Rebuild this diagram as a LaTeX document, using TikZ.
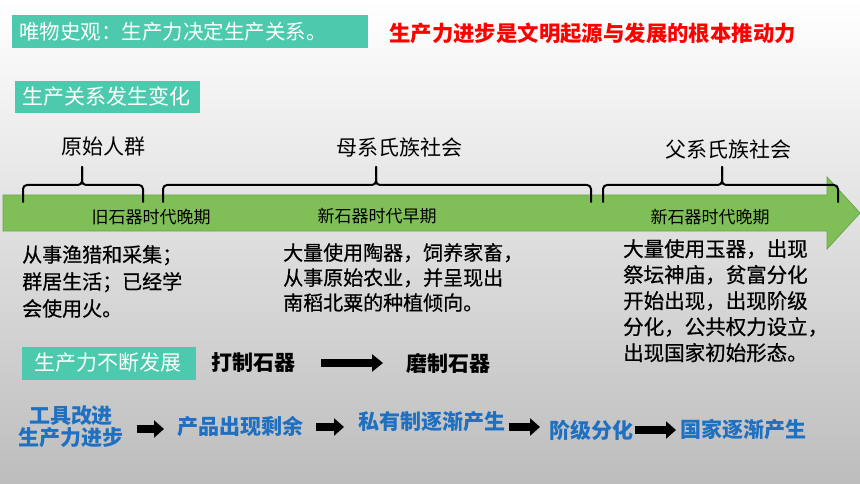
\documentclass[tikz,border=0pt]{standalone}
\usepackage{fontspec}
\setmainfont{Noto Sans CJK SC}
\newfontfamily\blkfont{Noto Sans CJK SC}[FakeBold=0.6]
\usetikzlibrary{arrows.meta}
\definecolor{teal1}{HTML}{4DC9AD}
\definecolor{barg}{HTML}{80BF57}
\definecolor{barline}{HTML}{6CA64A}
\definecolor{blue1}{HTML}{1F70C1}
\definecolor{red1}{HTML}{FF0000}
\definecolor{bgbot}{HTML}{BDBDBD}
\newcommand\fsz[2]{\fontsize{#1}{#2}\selectfont}
\begin{document}
\begin{tikzpicture}[x=1pt,y=-1pt,
  tealbox/.style={fill=teal1,draw=none},
  boxtext/.style={text=white,anchor=west,inner sep=0pt},
  bracepath/.style={line width=2pt, rounded corners=4pt, line cap=round},
  lbl/.style={font=\fsz{21}{21}, inner sep=0pt},
  bartext/.style={font=\fsz{17}{17}, inner sep=0pt},
  block/.style={anchor=north west, align=left, inner sep=0pt},
  btext/.style={text=blue1, font=\bfseries\fsz{21}{22}, inner sep=0pt, align=center},
  barrow/.style={line width=8pt, -{Triangle[length=10pt,width=17pt]}},
]
\useasboundingbox (0,0) rectangle (860,484);
\shade[top color=white, bottom color=bgbot] (0,0) rectangle (860,484);

% header boxes
\fill[tealbox] (12,15) rectangle (368,48);
\node[boxtext, font=\fsz{20.5}{20.5}] (t1) at (19,32) {唯物史观：生产力决定生产关系。};
\node[anchor=west, inner sep=0pt, text=red1, font=\bfseries\fsz{21.4}{21.4}] (t2) at (389,33) {生产力进步是文明起源与发展的根本推动力};
\fill[tealbox] (15,81) rectangle (200,113);
\node[boxtext, font=\fsz{21}{21}] (t3) at (22,97) {生产关系发生变化};

% timeline bar
\filldraw[fill=barg, draw=barline, line width=0.8pt] (3,195) -- (827,195) -- (827,177) -- (860,213) -- (827,249) -- (827,231) -- (3,231) -- cycle;
\node[bartext] (p1) at (151,217) {旧石器时代晚期};
\node[bartext] (p2) at (377,216) {新石器时代早期};
\node[bartext] (p3) at (710,217) {新石器时代晚期};

% braces
\draw[bracepath] (23,202) -- (23,185) -- (82,185) -- (82,167);
\draw[bracepath] (143,202) -- (143,185) -- (82,185) -- (82,167);
\draw[bracepath] (163,202) -- (163,185) -- (376,185) -- (376,167);
\draw[bracepath] (591,202) -- (591,185) -- (376,185) -- (376,167);
\draw[bracepath] (603,202) -- (603,185) -- (722,185) -- (722,167);
\draw[bracepath] (838,202) -- (838,185) -- (722,185) -- (722,167);

\node[lbl] (s1) at (103,147) {原始人群};
\node[lbl] (s2) at (399,147) {母系氏族社会};
\node[lbl] (s3) at (728,150) {父系氏族社会};

% descriptions
\node[block, font=\blkfont\fsz{20}{27}] (d1) at (22,245) {从事渔猎和采集；\\群居生活；已经学\\会使用火。};
\node[block, font=\blkfont\fsz{20}{25}] (d2) at (283,243) {大量使用陶器，饲养家畜，\\从事原始农业，并呈现出\\南稻北粟的种植倾向。};
\node[block, font=\blkfont\fsz{20.5}{26}] (d3) at (623,239) {大量使用玉器，出现\\祭坛神庙，贫富分化\\开始出现，出现阶级\\分化，公共权力设立，\\出现国家初始形态。};

% productivity row
\fill[tealbox] (22,347) rectangle (196,380);
\node[boxtext, font=\fsz{21}{21}] (t4) at (34,363) {生产力不断发展};
\node[anchor=west, inner sep=0pt, font=\bfseries\fsz{21}{21}] (k1) at (211,363) {打制石器};
\node[anchor=west, inner sep=0pt, font=\bfseries\fsz{21}{21}] (k2) at (406,363) {磨制石器};
\draw[barrow, line width=8pt, -{Triangle[length=11pt,width=17pt]}, shorten <=26pt, shorten >=23pt] (k1.east) -- (k2.west);

% bottom chain
\node[btext] (n1) at (71,427) {工具改进\\生产力进步};
\node[btext] (n2) at (240,427) {产品出现剩余};
\node[btext] (n3) at (432,422) {私有制逐渐产生};
\node[btext] (n4) at (591,430) {阶级分化};
\node[btext] (n5) at (743,430) {国家逐渐产生};
\draw[barrow, shorten <=13pt] ([yshift=-2pt]n1.east) -- ([yshift=-2pt]n1.east -| 164,0);
\draw[barrow] ([yshift=0pt]n2.east) ++(13,0) coordinate (a2s) -- (a2s -| 344,0);
\draw[barrow] ([yshift=-5pt]n3.east) ++(3,0) coordinate (a3s) -- (a3s -| 540,0);
\draw[barrow] (n4.east) ++(2,0) coordinate (a4s) -- (a4s -| 676,0);
\end{tikzpicture}
\end{document}
